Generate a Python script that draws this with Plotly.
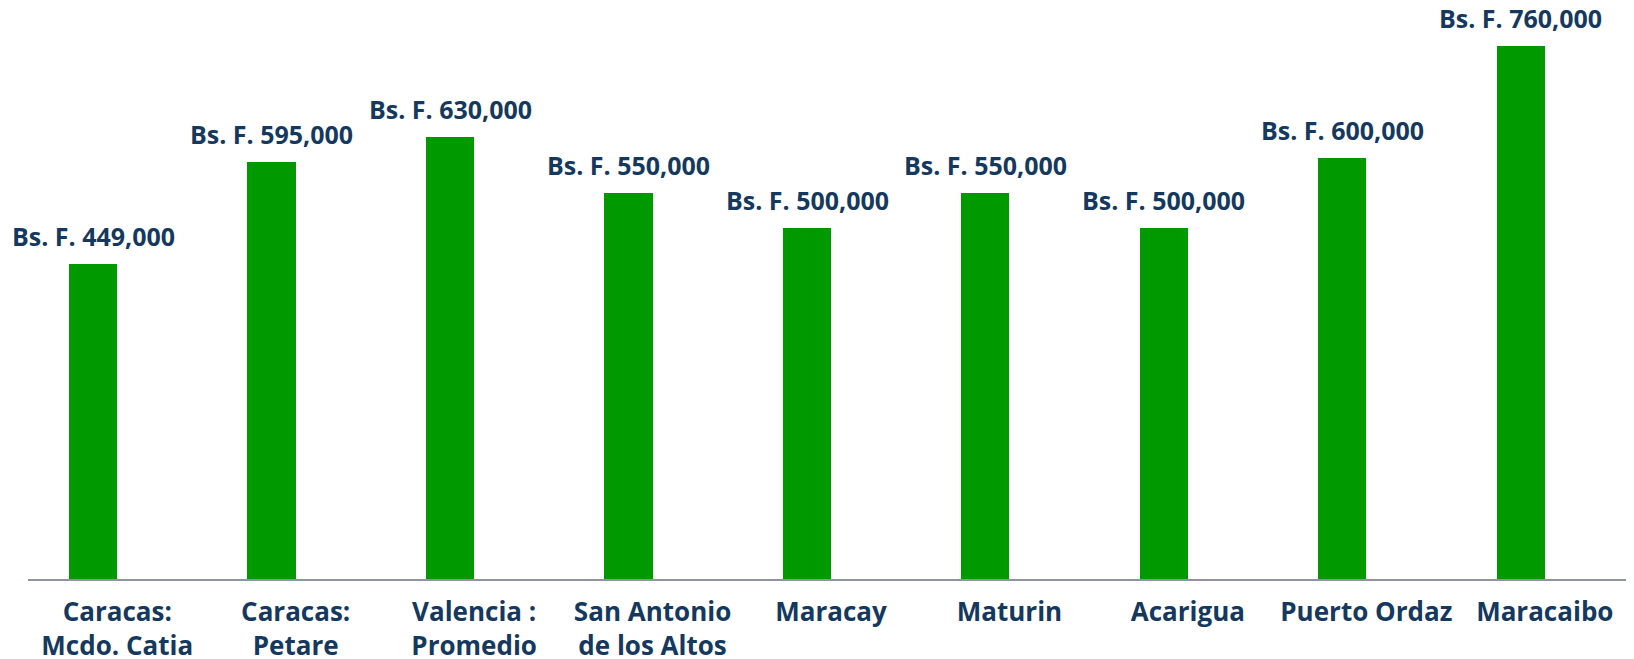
import plotly.graph_objects as go

categories = ["Caracas:<br>Mcdo. Catia", "Caracas:<br>Petare", "Valencia :<br>Promedio",
              "San Antonio<br>de los Altos", "Maracay", "Maturin", "Acarigua",
              "Puerto Ordaz", "Maracaibo"]
values = [449000, 595000, 630000, 550000, 500000, 550000, 500000, 600000, 760000]
value_labels = ["Bs. F. {:,}".format(v) for v in values]

GREEN = "#009A00"
NAVY = "#15395E"
FONT = "Open Sans"
W = 0.27

fig = go.Figure()
fig.add_trace(go.Bar(
    x=categories, y=values, width=W, offset=-W,
    marker=dict(color=GREEN, line=dict(width=0)),
    hoverinfo="skip",
))

for c, v, t in zip(categories, values, value_labels):
    fig.add_annotation(x=c, y=v, text=t, showarrow=False, xanchor="center", yanchor="bottom",
                       xshift=-24, yshift=9,
                       font=dict(family=FONT, size=25, color=NAVY, weight="bold"))

# page body has an 8px margin; figure sized/margined to compensate
fig.update_layout(
    width=1626, height=651,
    margin=dict(l=20, r=0, t=10, b=80),
    paper_bgcolor="white", plot_bgcolor="white",
    showlegend=False,
    bargap=0,
    xaxis=dict(showline=True, linecolor="#8E959E", linewidth=2, ticks="", showgrid=False,
               automargin=False, range=[-0.5, 8.5],
               tickfont=dict(family=FONT, size=26, color=NAVY, weight="bold"),
               ticklabelstandoff=9),
    yaxis=dict(range=[0, 800000], visible=False, showgrid=False, automargin=False),
)

fig.write_html("out.html")
